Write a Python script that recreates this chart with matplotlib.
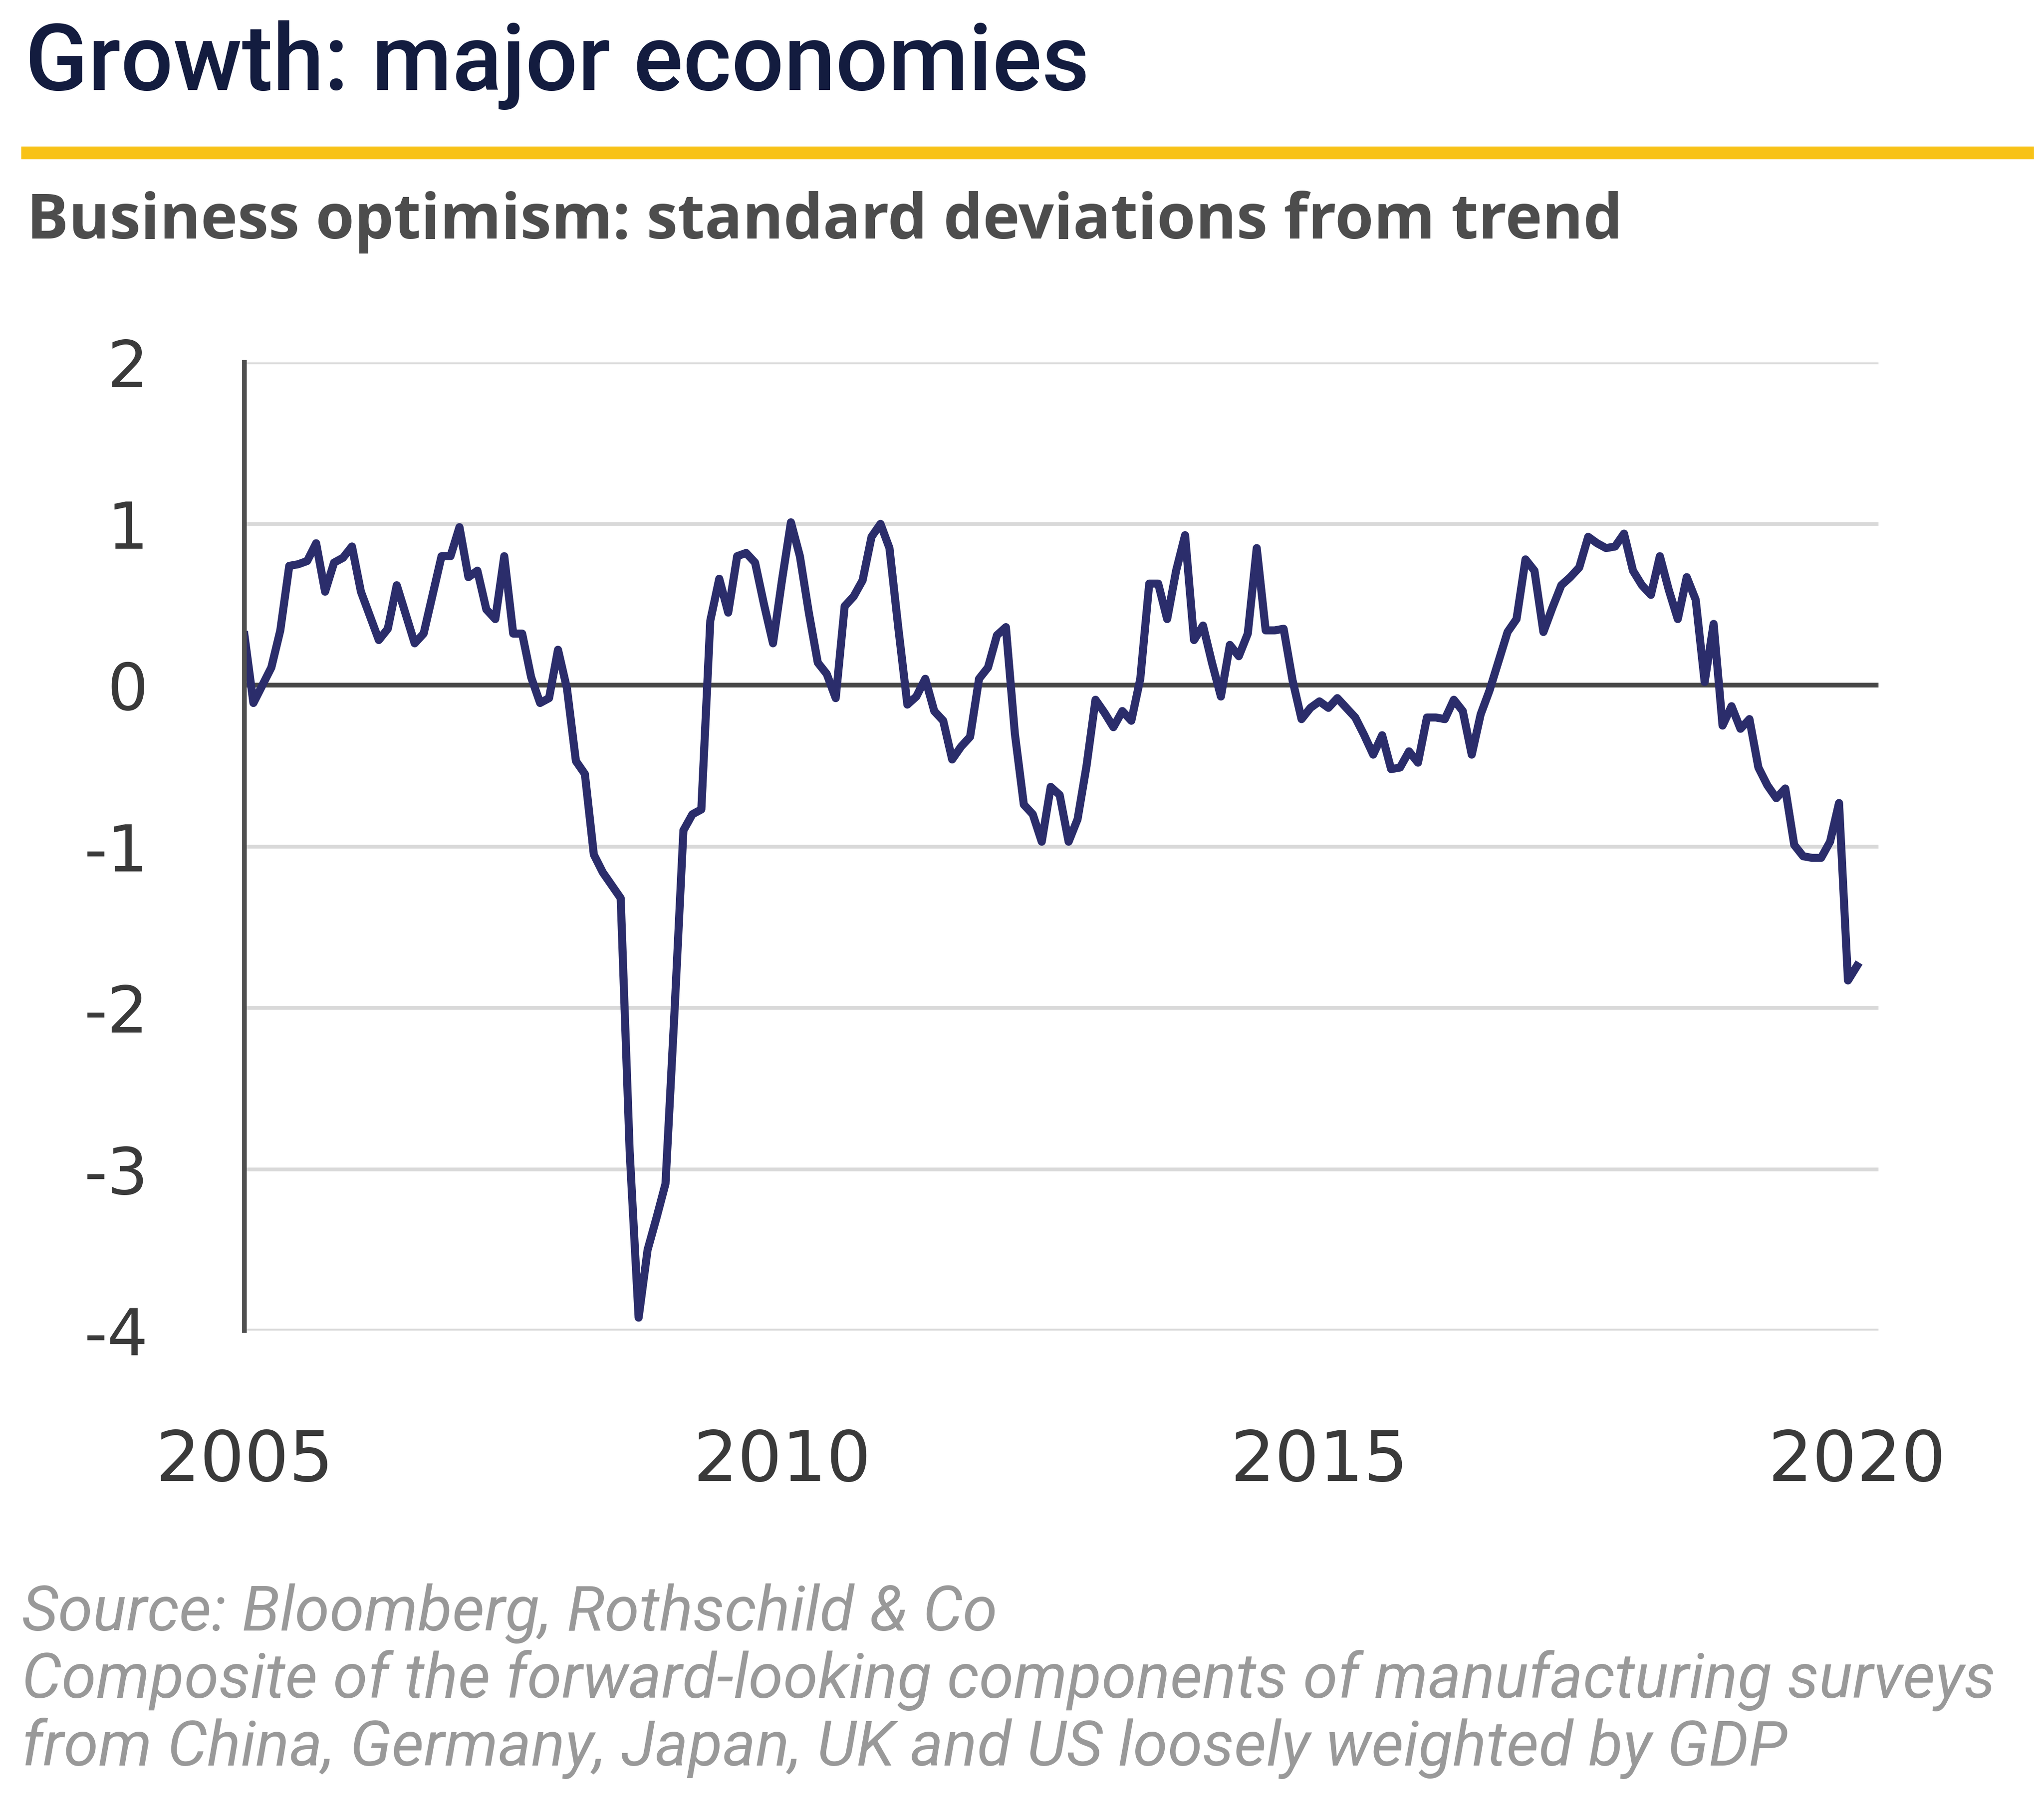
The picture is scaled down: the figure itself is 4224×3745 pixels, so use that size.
import matplotlib
matplotlib.use('Agg')
import matplotlib.pyplot as plt
from matplotlib.lines import Line2D
import numpy as np

# Business optimism, monthly, standard deviations from trend
y2005 = [0.31, -0.11, 0.00, 0.11, 0.34, 0.74, 0.75, 0.77, 0.88, 0.58, 0.76, 0.79]
y2006 = [0.86, 0.58, 0.43, 0.28, 0.35, 0.62, 0.44, 0.26, 0.32, 0.56, 0.80, 0.80]
y2007 = [0.98, 0.67, 0.71, 0.47, 0.41, 0.80, 0.32, 0.32, 0.05, -0.11, -0.08, 0.22]
y2008 = [-0.02, -0.47, -0.55, -1.05, -1.16, -1.24, -1.32, -2.89, -3.92, -3.50, -3.30, -3.09]
y2009 = [-2.03, -0.90, -0.80, -0.77, 0.40, 0.66, 0.45, 0.80, 0.82, 0.76, 0.50, 0.26]
y2010 = [0.65, 1.01, 0.80, 0.45, 0.14, 0.07, -0.08, 0.49, 0.55, 0.65, 0.92, 1.00]
y2011 = [0.85, 0.35, -0.12, -0.07, 0.04, -0.16, -0.22, -0.46, -0.38, -0.32, 0.04, 0.11]
y2012 = [0.31, 0.36, -0.30, -0.74, -0.80, -0.97, -0.63, -0.68, -0.97, -0.83, -0.50, -0.09]
y2013 = [-0.17, -0.26, -0.16, -0.22, 0.04, 0.63, 0.63, 0.41, 0.71, 0.93, 0.28, 0.37]
y2014 = [0.14, -0.07, 0.25, 0.18, 0.32, 0.85, 0.34, 0.34, 0.35, 0.03, -0.21, -0.14]
y2015 = [-0.10, -0.14, -0.08, -0.14, -0.20, -0.31, -0.43, -0.31, -0.52, -0.51, -0.41, -0.48]
y2016 = [-0.20, -0.20, -0.21, -0.09, -0.16, -0.43, -0.18, -0.03, 0.15, 0.33, 0.41, 0.78]
y2017 = [0.71, 0.33, 0.48, 0.62, 0.67, 0.73, 0.92, 0.88, 0.85, 0.86, 0.94, 0.71]
y2018 = [0.62, 0.56, 0.80, 0.59, 0.41, 0.67, 0.53, 0.02, 0.38, -0.25, -0.13, -0.27]
y2019 = [-0.21, -0.51, -0.62, -0.70, -0.64, -0.99, -1.06, -1.07, -1.07, -0.97, -0.73, -1.83]
y2020 = [-1.74]

optimism = (y2005 + y2006 + y2007 + y2008 + y2009 + y2010 + y2011 + y2012
            + y2013 + y2014 + y2015 + y2016 + y2017 + y2018 + y2019 + y2020)
dates = 2005 + np.arange(len(optimism)) / 12.0

y_ticks = [2, 1, 0, -1, -2, -3, -4]
y_labels = ['2', '1', '0', '-1', '-2', '-3', '-4']
x_ticks = [2005, 2010, 2015, 2020]
x_labels = ['2005', '2010', '2015', '2020']

title = 'Growth: major economies'
subtitle = 'Business optimism: standard deviations from trend'
notes = ['Source: Bloomberg, Rothschild & Co',
         'Composite of the forward-looking components of manufacturing surveys',
         'from China, Germany, Japan, UK and US loosely weighted by GDP']

W, H = 4224, 3745
fig = plt.figure(figsize=(W / 100, H / 100), dpi=100)
fig.patch.set_facecolor('white')

ax = fig.add_axes([0.1196, 0.2657, 0.919 - 0.1196, 0.7999 - 0.2657])
ax.set_xlim(2005, 2020.2)
ax.set_ylim(-4, 2)

for yv in y_ticks:
    if yv != 0:
        ax.axhline(yv, color='#d9d9d9', lw=5.5, zorder=1)
ax.axhline(0, color='#474747', lw=7, zorder=2)
ax.plot(dates, optimism, color='#2b2d6b', lw=12, zorder=3)

for s in ['top', 'right', 'bottom']:
    ax.spines[s].set_visible(False)
ax.spines['left'].set_color('#4f4f4f')
ax.spines['left'].set_linewidth(7)
ax.spines['left'].set_zorder(4)

ax.set_yticks(y_ticks)
ax.set_yticklabels(y_labels)
ax.set_xticks(x_ticks)
ax.set_xticklabels(x_labels)
ax.tick_params(axis='y', length=0, pad=143, labelsize=96, labelcolor='#3a3a3a')
ax.tick_params(axis='x', length=0, pad=145, labelsize=104, labelcolor='#3a3a3a')

# header
t_title = fig.text(52 / W, 1 - 186 / H, title, fontsize=140, color='#131c3f',
                   family='Roboto', fontweight='medium', va='baseline', ha='left')
fig.add_artist(Line2D([0.0104, 0.995], [0.9156, 0.9156], transform=fig.transFigure,
                      color='#f8c217', lw=19, solid_capstyle='butt'))
t_sub = fig.text(55 / W, 1 - 493 / H, subtitle, fontsize=90, color='#4d4d4d',
                 family='Open Sans', fontweight='bold', va='baseline', ha='left')

# footer
note_y = [1 - 3370 / H, 1 - 3509 / H, 1 - 3649 / H]
t_notes = [fig.text(45 / W, yy, txt, fontsize=80, color='#999999', family='Roboto',
                    style='italic', fontweight='normal', va='baseline', ha='left')
           for yy, txt in zip(note_y, notes)]

renderer = fig.canvas.get_renderer()


def fit(txt, width_px):
    bb = txt.get_window_extent(renderer)
    txt.set_fontsize(txt.get_fontsize() * width_px / bb.width)


fit(t_title, 2200)
fit(t_sub, 3300)
fit(t_notes[1], 4080)
for t in t_notes:
    t.set_fontsize(t_notes[1].get_fontsize())

fig.savefig('out.png', dpi=100, facecolor='white')
